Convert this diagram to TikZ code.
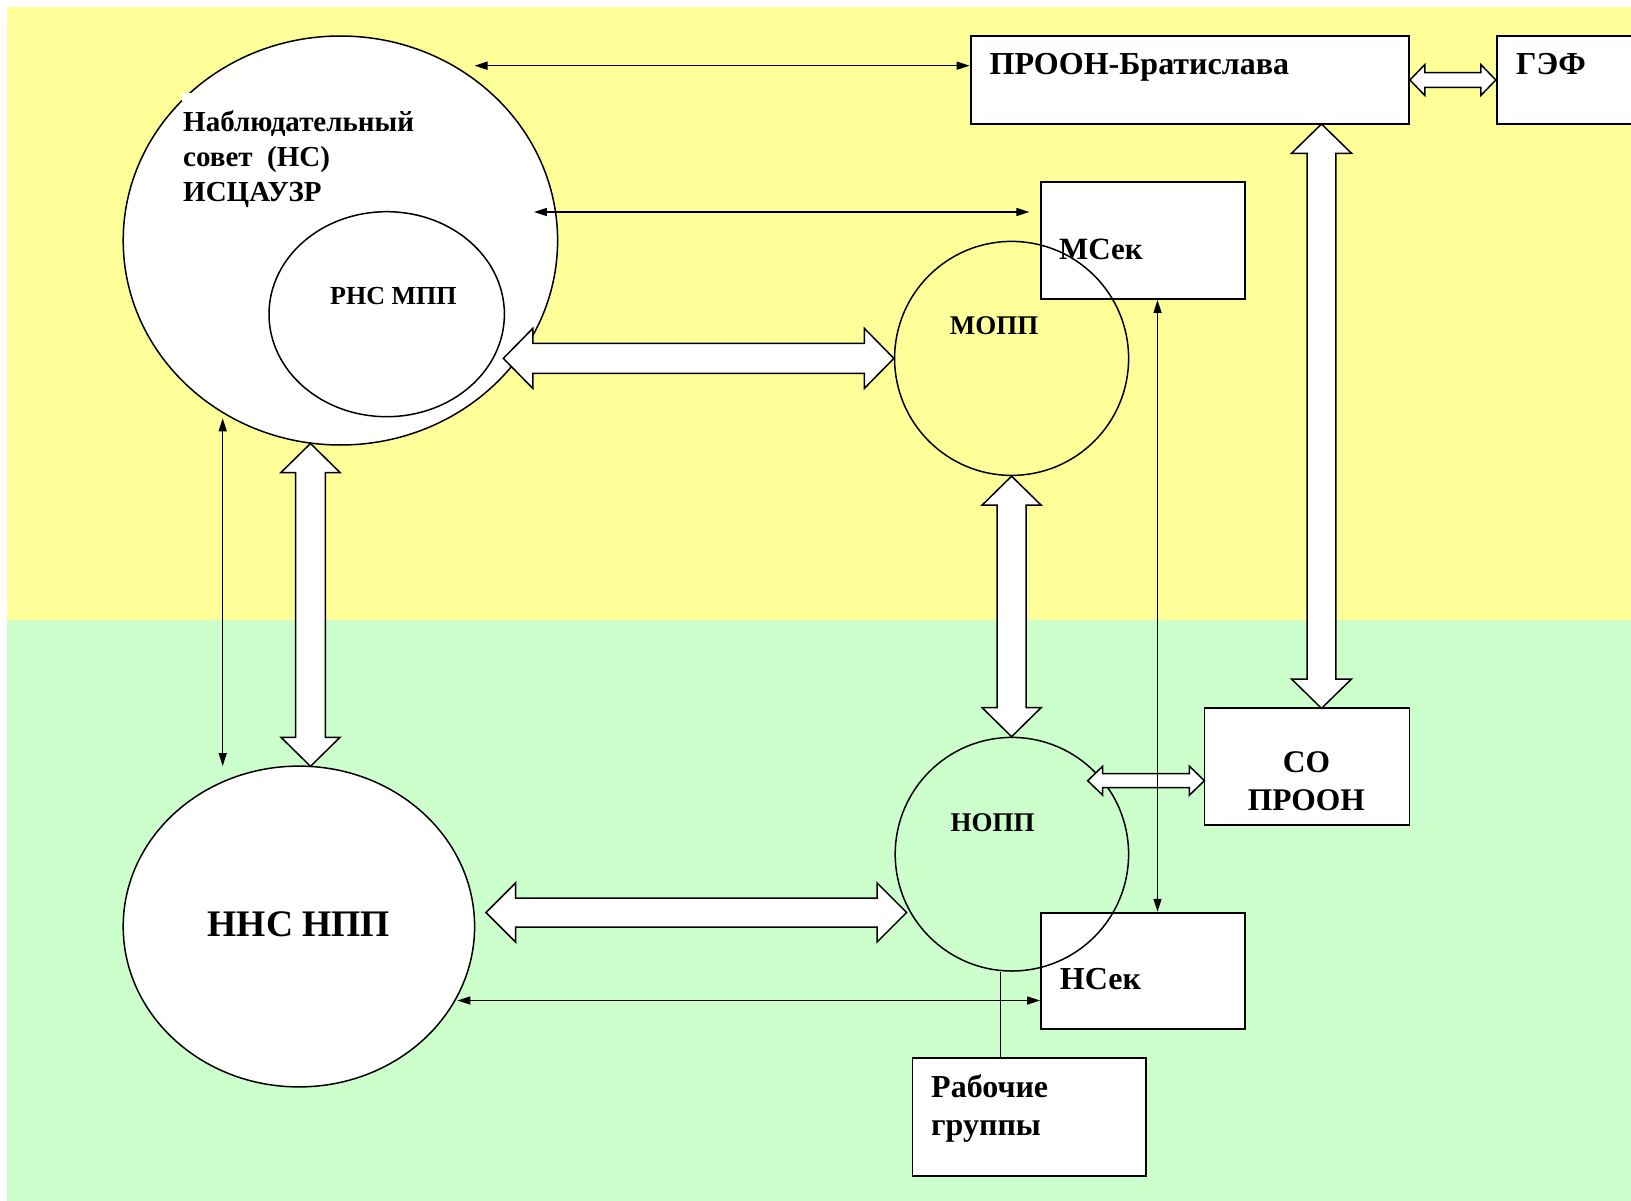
\documentclass[tikz,border=0pt]{standalone}
\usepackage{fontspec}
\setmainfont{Liberation Serif}
\usetikzlibrary{shapes.geometric,arrows.meta,calc}
\definecolor{bgyellow}{HTML}{FFFF99}
\definecolor{bggreen}{HTML}{CCFFCC}
\newcommand\fsz[1]{\fontsize{#1}{#1}\selectfont}
\newcommand\hollowH[5]{%
  \draw[hollow] let \p1=(#1), \p2=(#2) in
    (\x1,\y1) -- (\x1+#5,\y1+#4) -- (\x1+#5,\y1+#3) -- (\x2-#5,\y1+#3) -- (\x2-#5,\y1+#4) -- (\x2,\y1)
    -- (\x2-#5,\y1-#4) -- (\x2-#5,\y1-#3) -- (\x1+#5,\y1-#3) -- (\x1+#5,\y1-#4) -- cycle;}
\newcommand\hollowV[5]{%
  \draw[hollow] let \p1=(#1), \p2=(#2) in
    (\x1,\y1) -- (\x1+#4,\y1-#5) -- (\x1+#3,\y1-#5) -- (\x1+#3,\y2+#5) -- (\x1+#4,\y2+#5) -- (\x1,\y2)
    -- (\x1-#4,\y2+#5) -- (\x1-#3,\y2+#5) -- (\x1-#3,\y1-#5) -- (\x1-#4,\y1-#5) -- cycle;}
\begin{document}
\begin{tikzpicture}[x=1pt,y=-1pt,
  oval/.style={ellipse, draw, line width=1.5pt, inner sep=0},
  box/.style={rectangle, draw, fill=white, line width=1.8pt, inner sep=0},
  hollow/.style={draw, fill=white, line width=1.5pt, line join=miter},
  thinarr/.style={line width=1.4pt, arrows={Triangle[length=13pt,width=8pt]-Triangle[length=13pt,width=8pt]}},
  plain/.style={line width=1.5pt},
  txt/.style={inner sep=0, anchor=base west, font=\bfseries},
  ctxt/.style={inner sep=0, anchor=base, font=\bfseries}]
\path[use as bounding box] (0,0) rectangle (1631,1201);
\clip (0,0) rectangle (1631,1201);
\fill[white] (0,0) rectangle (1631,1201);
\fill[bgyellow] (7,7) rectangle (1631,620);
\fill[bggreen] (7,620) rectangle (1631,1201);

% circles (filled)
\node[oval, fill=white, minimum width=434.4pt, minimum height=409pt] (ns) at (340.4,240.5) {};
\node[oval, fill=white, minimum width=235.4pt, minimum height=205pt] (rns) at (386.7,314.2) {};
\fill[white] (182,93) rectangle (191,101);

% boxes
\node[box, minimum width=438.4pt, minimum height=88pt] (prB) at (1189.8,80) {};
\node[box, minimum width=203.3pt, minimum height=88pt] (gef) at (1598.35,80) {};
\node[box, minimum width=204.3pt, minimum height=116.7pt] (msek) at (1142.95,240.65) {};
\node[box, minimum width=204.3pt, minimum height=116.6pt] (nsek) at (1143.15,971) {};
\node[box, minimum width=205.1pt, minimum height=116.7pt] (co) at (1306.95,766.65) {};
\node[box, minimum width=233.4pt, minimum height=117.4pt] (rg) at (1029.1,1117) {};

% open circles
\node[oval, minimum width=234pt, minimum height=234pt] (mopp) at (1011.6,358.4) {};
\node[oval, minimum width=233.4pt, minimum height=233.6pt] (nopp) at (1011.9,854.2) {};
\node[oval, fill=white, minimum width=351.4pt, minimum height=320.8pt] (nns) at (298.9,926.5) {};

% free ends of connectors
\coordinate (a1L) at (503.3,358.4);
\coordinate (a2T) at (310.5,443.5);
\coordinate (a2B) at (310.5,766.3);
\coordinate (a4L) at (486,912.5);
\coordinate (a4R) at (906.6,912.5);
\coordinate (a5T) at (1321.5,124);
\coordinate (a5B) at (1321.5,708.3);
\coordinate (a7L) at (1087.7,780.7);
\coordinate (a7R) at (1204.4,780.7);
\coordinate (t1) at (474.5,65.7);
\coordinate (t2L) at (533.9,212);
\coordinate (t2R) at (1029.4,212);
\coordinate (t3) at (457.3,1000.5);
\coordinate (t4) at (1157.5,0);
\coordinate (t5T) at (222.7,418.3);
\coordinate (t5B) at (222.7,766.1);
\coordinate (t6) at (1000.5,0);

% hollow double arrows
\hollowH{a1L}{mopp.west}{15pt}{30pt}{29.5pt}
\hollowV{a2T}{a2B}{14.8pt}{29.5pt}{29pt}
\hollowV{mopp.south}{nopp.north}{14.5pt}{29.5pt}{29pt}
\hollowH{a4L}{a4R}{14.5pt}{29.5pt}{29.5pt}
\hollowV{a5T}{a5B}{14.3pt}{30pt}{29.3pt}
\hollowH{prB.east}{gef.west}{7.3pt}{15.5pt}{15pt}
\hollowH{a7L}{a7R}{7pt}{14.5pt}{15pt}

% thin connectors
\draw[thinarr] (t1) -- (t1 -| prB.west);
\draw[thinarr] (t2L) -- (t2R);
\draw[thinarr] (t3) -- (t3 -| nsek.west);
\draw[thinarr] (t4 |- msek.south) -- (t4 |- nsek.north);
\draw[thinarr] (t5T) -- (t5B);
\draw[plain] (t6 |- nopp.south) -- (t6 |- rg.north);

% texts
\node[txt, font=\bfseries\fsz{29}] (nsl1) at (183,131.7) {Наблюдательный};
\node[txt, font=\bfseries\fsz{29}] (nsl2) at (183,166.7) {совет\ \ (НС)};
\node[txt, font=\bfseries\fsz{29}] (nsl3) at (183,201.7) {ИСЦАУЗР};
\node[txt, font=\bfseries\fsz{26}] (rnst) at (330,304) {РНС МПП};
\node[txt, font=\bfseries\fsz{27}] (moppt) at (949.7,334) {МОПП};
\node[txt, font=\bfseries\fsz{27}] (noppt) at (950.3,831.7) {НОПП};
\node[txt, font=\bfseries\fsz{31}] (msekt) at (1059,259.3) {МСек};
\node[txt, font=\bfseries\fsz{32}] (prBt) at (989.5,75) {ПРООН-Братислава};
\node[txt, font=\bfseries\fsz{32}] (geft) at (1516,75) {ГЭФ};
\node[ctxt, font=\bfseries\fsz{31.5}] (cot1) at (1306.6,772.7) {СО};
\node[ctxt, font=\bfseries\fsz{31.5}] (cot2) at (1306.4,810) {ПРООН};
\node[txt, font=\bfseries\fsz{32}] (nsekt) at (1059.7,989.3) {НСек};
\node[txt, font=\bfseries\fsz{32}] (rgt1) at (931,1097.3) {Рабочие};
\node[txt, font=\bfseries\fsz{32}] (rgt2) at (931,1135) {группы};
\node[ctxt, font=\bfseries\fsz{37.5}] (nnst) at (298.9,936.4) {ННС НПП};
\end{tikzpicture}
\end{document}
